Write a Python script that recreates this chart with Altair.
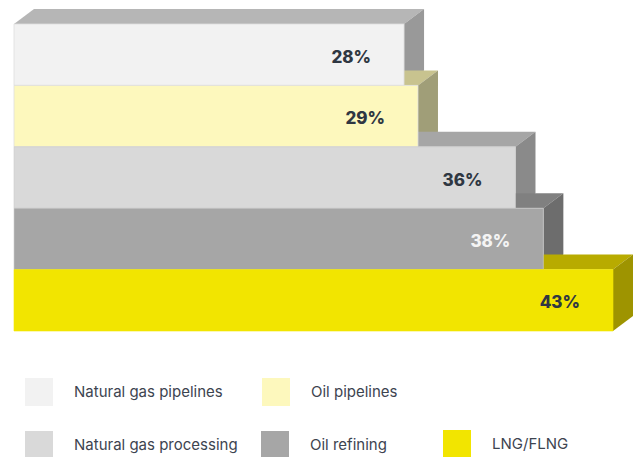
import altair as alt
import pandas as pd

# ---- data ----
categories = ["Natural gas pipelines", "Oil pipelines", "Natural gas processing",
              "Oil refining", "LNG/FLNG"]
values = [28, 29, 36, 38, 43]

# ---- styles ----
front_colors = ["#f2f2f2", "#fdf8bd", "#d9d9d9", "#a6a6a6", "#f2e500"]
top_colors = ["#b6b6b6", "#c8c38f", "#a6a6a6", "#808080", "#b8ab00"]
side_colors = ["#999999", "#a09e78", "#8a8a8a", "#6d6d6d", "#9e9400"]
label_colors = ["#2f3742", "#2f3742", "#2f3742", "#f4f4f4", "#2f3742"]

W, H = 599, 307            # plot area in px
XMAX, NROWS = 43, len(categories)
DX = 20 * XMAX / W         # 3D depth, horizontal (data units)
DY = 15 * NROWS / H        # 3D depth, vertical (data units)

front = pd.DataFrame({
    "cat": categories,
    "value": values,
    "row": list(range(NROWS)),
    "row2": [i + 1 for i in range(NROWS)],
    "mid": [i + 0.5 for i in range(NROWS)],
    "label": [f"{v}%" for v in values],
    "lc": label_colors,
})

faces = []
for i, (c, v) in enumerate(zip(categories, values)):
    # top face
    for k, (x, y, y2) in enumerate([(0, i, i), (DX, i, i - DY), (v, i, i - DY),
                                     (v + DX, i - DY, i - DY)]):
        faces.append({"face": c + " top", "k": k, "px": x, "py": y, "py2": y2,
                      "col": top_colors[i]})
    # side face
    for k, (x, y, y2) in enumerate([(v, i + 1, i), (v + DX, i + 1 - DY, i - DY)]):
        faces.append({"face": c + " side", "k": k, "px": x, "py": y, "py2": y2,
                      "col": side_colors[i]})
faces = pd.DataFrame(faces)

xs = alt.Scale(domain=[0, XMAX], nice=False, zero=False)
ys = alt.Scale(domain=[0, NROWS], reverse=True, nice=False, zero=False)

legend_common = dict(orient="none", direction="horizontal", title=None,
                     symbolType="square", symbolSize=784, symbolStrokeWidth=0,
                     symbolOpacity=1, labelFont="Inter", labelFontSize=15,
                     labelColor="#3d4450", labelOffset=21, padding=0, labelLimit=400)

area = alt.Chart(faces).mark_area(opacity=1).encode(
    x=alt.X("px:Q", scale=xs, axis=None),
    y=alt.Y("py:Q", scale=ys, axis=None),
    y2="py2:Q",
    detail="face:N",
    fill=alt.Fill("col:N", scale=None),
)

base_front = alt.Chart(front)
enc = dict(
    x=alt.X("zero:Q", scale=xs, axis=None),
    x2="value:Q",
    y=alt.Y("row:Q", scale=ys, axis=None),
    y2="row2:Q",
)

front1 = base_front.transform_filter(
    alt.FieldOneOfPredicate(field="cat", oneOf=categories[:2])
).transform_calculate(zero="0").mark_rect(stroke="#dedede", strokeWidth=0.8).encode(
    **enc,
    color=alt.Color("cat:N", scale=alt.Scale(domain=categories[:2], range=front_colors[:2]),
                    legend=alt.Legend(legendX=11, legendY=354, columnPadding=39, **legend_common)),
)

front2 = base_front.transform_filter(
    alt.FieldOneOfPredicate(field="cat", oneOf=categories[2:4])
).transform_calculate(zero="0").mark_rect(stroke="#cfcfcf", strokeWidth=0.6).encode(
    **enc,
    fill=alt.Fill("cat:N", scale=alt.Scale(domain=categories[2:4], range=front_colors[2:4]),
                  legend=alt.Legend(legendX=11, legendY=407, columnPadding=23, **legend_common)),
)

front3 = base_front.transform_filter(
    alt.FieldOneOfPredicate(field="cat", oneOf=categories[4:])
).transform_calculate(zero="0").mark_rect(fill=front_colors[4], strokeWidth=0.6).encode(
    **enc,
    stroke=alt.Stroke("cat:N", scale=alt.Scale(domain=categories[4:], range=front_colors[4:]),
                      legend=alt.Legend(legendX=429, legendY=406, symbolFillColor=front_colors[4],
                                        **legend_common)),
)

labels = base_front.mark_text(align="right", baseline="middle", dx=-33, dy=3,
                              font="Inter", fontWeight=800, fontSize=17).encode(
    x=alt.X("value:Q", scale=xs, axis=None),
    y=alt.Y("mid:Q", scale=ys, axis=None),
    text="label:N",
    color=alt.Color("lc:N", scale=None),
)

chart = alt.layer(area, front1, front2, front3, labels).resolve_scale(
    color="independent", fill="independent", stroke="independent"
).properties(
    width=W, height=H,
    padding={"left": 14, "top": 24, "right": 634 - 14 - W, "bottom": 457 - 24 - H},
    autosize="none",
    background="white",
).configure_view(stroke=None)

chart.save("out.html", embed_options={"renderer": "svg", "actions": False})
